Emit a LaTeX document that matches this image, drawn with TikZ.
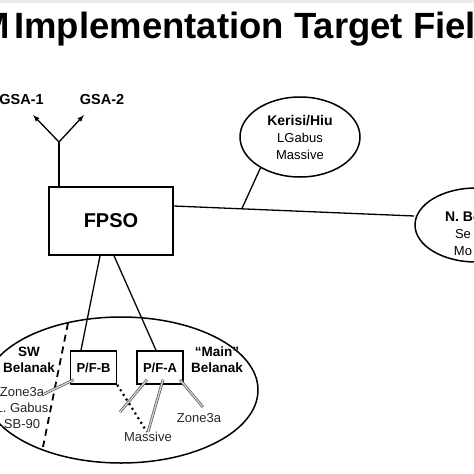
\documentclass[tikz,border=0pt]{standalone}
\usepackage{fontspec}
\setmainfont{Liberation Sans}
\usetikzlibrary{shapes, arrows, positioning, calc}

\begin{document}
\begin{tikzpicture}[
    x=1pt, y=-1pt,
    pipe/.style={line width=1.3pt},
    unit/.style={draw, line width=1.5pt, minimum width=124pt, minimum height=68pt, inner sep=0pt, font=\bfseries\fontsize{20}{22}\selectfont},
    platform/.style={draw, line width=1.5pt, minimum width=46pt, minimum height=33pt, inner sep=0pt, font=\bfseries\fontsize{13}{15}\selectfont},
    field/.style={ellipse, draw, line width=1.5pt, inner sep=0pt, align=center, font=\fontsize{13}{17}\selectfont},
    boldlabel/.style={font=\bfseries\fontsize{13.5}{16}\selectfont, align=center, inner sep=0pt},
    thinlabel/.style={font=\fontsize{13}{16}\selectfont, text=black!85, align=center, inner sep=0pt},
    well/.style={draw=gray!70!black, double=gray!35, double distance=1.3pt, line width=0.7pt}
]
    \useasboundingbox (0,0) rectangle (474,474);
    \clip (0,0) rectangle (474,474);
    \fill[gray!15] (0,0) rectangle (474,2.5);

    % Title
    \node[anchor=base west, inner sep=0pt, font=\bfseries\fontsize{36.5}{40}\selectfont] (title) at (-20.5,38) {M\kern-6pt\ Implementation Target Fiel};

    % Nodes
    \node[unit] (FPSO) at (111,221) {FPSO};
    \node[field, minimum width=120pt, minimum height=80pt] (KH) at (300,137) {{\bfseries\fontsize{14}{17}\selectfont Kerisi/Hiu}\\LGabus\\Massive};
    \node[field, minimum width=122pt, minimum height=74pt] (NB) at (476,225) {};
    \node[align=center, inner sep=0pt, font=\fontsize{13}{17}\selectfont] (NBtext) at (463,234) {{\bfseries\fontsize{14}{17}\selectfont N. Be}\\Se\\Mo};
    \node[field, minimum width=274pt, minimum height=146pt] (BEL) at (121,390) {};
    \node[platform] (PFB) at (93.5,367.5) {P/F-B};
    \node[platform] (PFA) at (160,367.5) {P/F-A};

    % Labels
    \node[boldlabel, font=\bfseries\fontsize{14.5}{16}\selectfont] (GSA1) at (21.5,100) {GSA-1};
    \node[boldlabel, font=\bfseries\fontsize{14.5}{16}\selectfont] (GSA2) at (102,100) {GSA-2};
    \node[boldlabel] (SW) at (29,360) {SW\\Belanak};
    \node[boldlabel] (MAIN) at (217,360) {“Main”\\Belanak};
    \node[thinlabel] (SWres) at (22,408) {Zone3a\\L. Gabus\\SB-90};
    \node[thinlabel] (MAS) at (148,437) {Massive};
    \node[thinlabel] (ZA) at (199,418) {Zone3a};

    % Export fork
    \coordinate (fork) at (59,142);
    \coordinate (tip1) at (33,115);
    \coordinate (tip2) at (84,115);
    \draw[pipe] (FPSO.north -| fork) -- (fork);
    \draw[pipe, -latex] (fork) -- (tip1);
    \draw[pipe, -latex] (fork) -- (tip2);

    % Edges
    \draw[pipe] ([yshift=15pt]FPSO.east) -- coordinate[pos=0.283] (KHjoin) ([yshift=9pt]NB.west);
    \draw[pipe] (KHjoin) -- (KH.218);
    \draw[pipe] ([xshift=-11pt]FPSO.south) -- ([xshift=-12.5pt]PFB.north);
    \draw[pipe] ([xshift=3pt]FPSO.south) -- ([xshift=-4pt]PFA.north);

    % Field boundary
    \coordinate (d1) at (68,323);
    \coordinate (d2) at (43,447);
    \draw[line width=1.8pt, dash pattern=on 7pt off 5pt] (d1) -- (d2);

    % Wells
    \coordinate (wB) at (44,394);
    \coordinate (w1) at (120,412);
    \coordinate (dotend) at (147,432);
    \draw[line width=2.2pt, dash pattern=on 2pt off 3.5pt] (PFB.south east) -- (dotend);
    \draw[well] ([shift={(4pt,5pt)}]PFB.south west) -- (wB);
    \draw[well] ([shift={(-13pt,5pt)}]PFA.south) -- (w1);
    \draw[well] ([shift={(3pt,5pt)}]PFA.south) -- (MAS.north);
    \draw[well] ([shift={(20pt,5pt)}]PFA.south) -- ([shift={(4pt,6pt)}]ZA.north);
\end{tikzpicture}
\end{document}
